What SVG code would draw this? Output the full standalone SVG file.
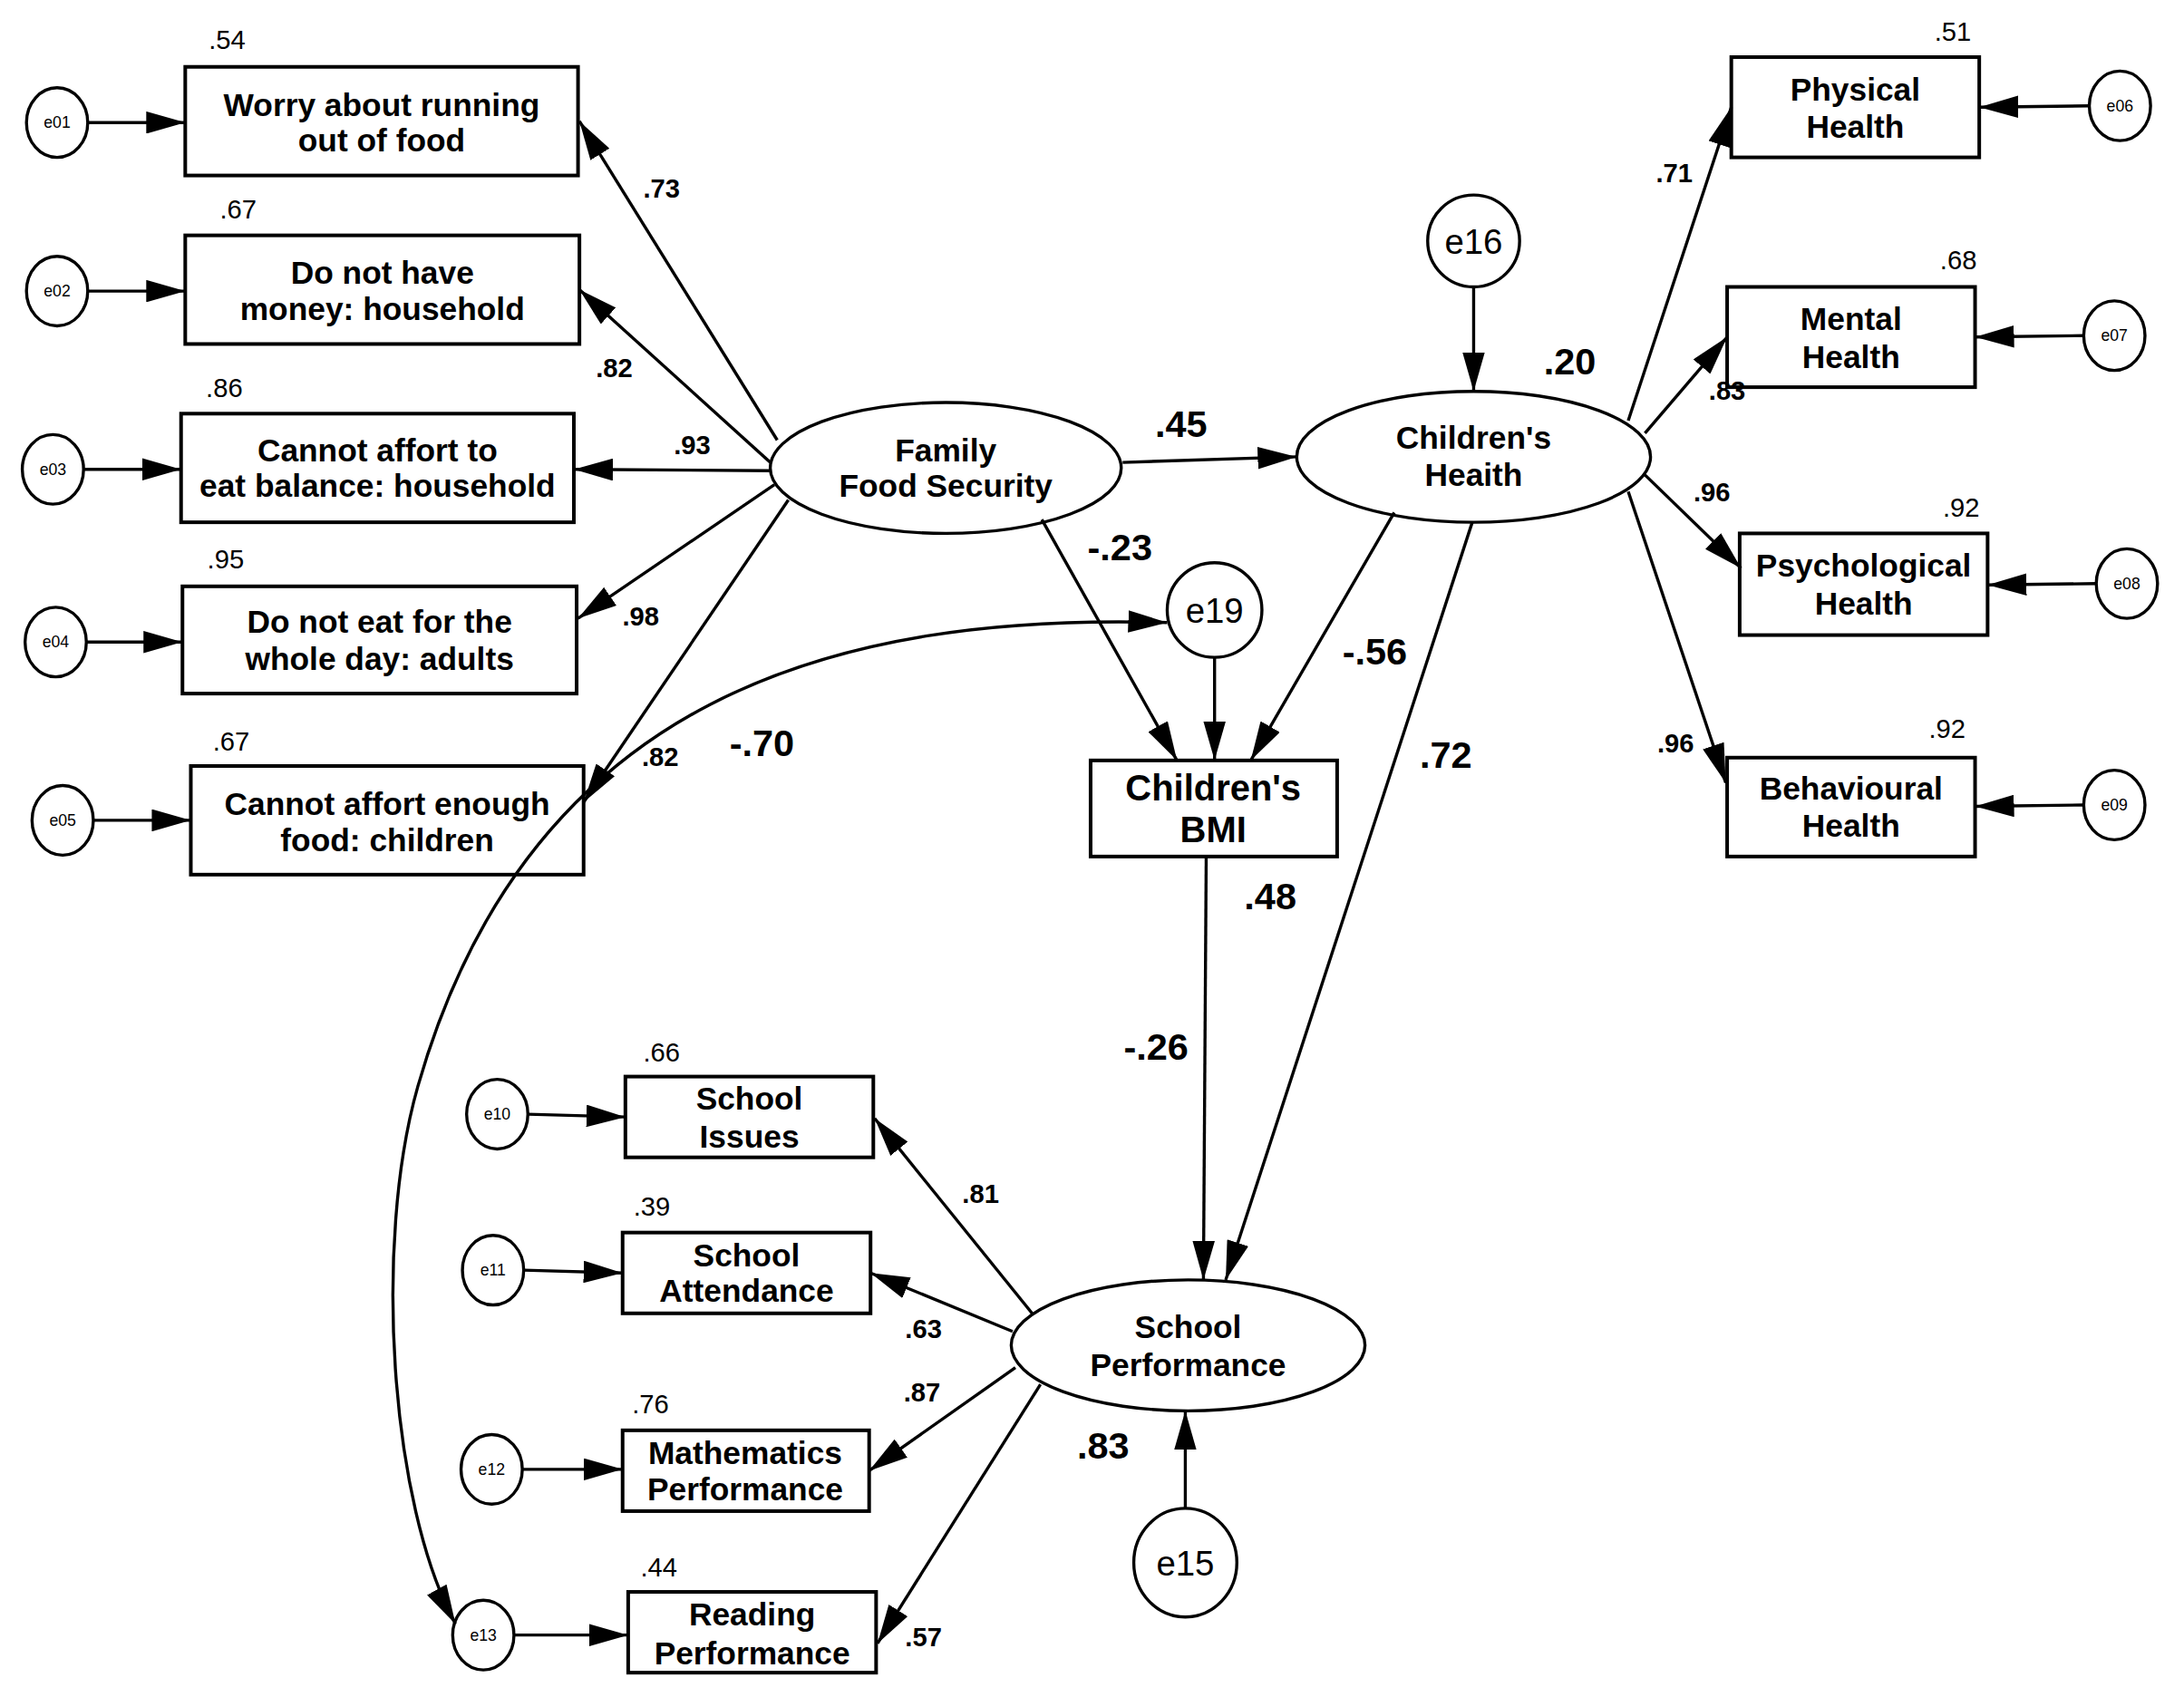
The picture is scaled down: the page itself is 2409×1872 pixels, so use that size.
<svg xmlns="http://www.w3.org/2000/svg" width="2409" height="1872" viewBox="0 0 2409 1872">
<style>
text{font-family:"Liberation Sans",Arial,sans-serif;fill:#000;text-anchor:middle}
.bx{fill:#fff;stroke:#000;stroke-width:2.6}
.el{fill:#fff;stroke:#000;stroke-width:2.2}
.ln{fill:none;stroke:#000;stroke-width:2.2;marker-end:url(#ah)}
.lbl{font-size:23px;font-weight:bold}
.bmi{font-size:26px;font-weight:bold}
.r2{font-size:19px}
.ld{font-size:19px;font-weight:bold}
.big{font-size:27px;font-weight:bold}
.es{font-size:11.5px}
.eb{font-size:25px}
</style>
<defs>
<marker id="ah" markerUnits="userSpaceOnUse" markerWidth="28" markerHeight="16" refX="28" refY="8" orient="auto-start-reverse" viewBox="0 0 28 16"><path d="M0,0 L28,8 L0,16 z" fill="#000"/></marker>
</defs>
<rect width="2409" height="1872" fill="#fff"/>
<g transform="scale(1.53635)">
<g id="e01"><ellipse class="el" cx="41" cy="88" rx="22" ry="25"/><text class="es" x="41" y="92">e01</text></g>
<g id="e02"><ellipse class="el" cx="41" cy="209" rx="22" ry="25"/><text class="es" x="41" y="213">e02</text></g>
<g id="e03"><ellipse class="el" cx="38" cy="337" rx="22" ry="25"/><text class="es" x="38" y="341">e03</text></g>
<g id="e04"><ellipse class="el" cx="40" cy="461" rx="22" ry="25"/><text class="es" x="40" y="465">e04</text></g>
<g id="e05"><ellipse class="el" cx="45" cy="589" rx="22" ry="25"/><text class="es" x="45" y="593">e05</text></g>
<g id="e06"><ellipse class="el" cx="1522" cy="76" rx="22" ry="25"/><text class="es" x="1522" y="80">e06</text></g>
<g id="e07"><ellipse class="el" cx="1518" cy="241" rx="22" ry="25"/><text class="es" x="1518" y="245">e07</text></g>
<g id="e08"><ellipse class="el" cx="1527" cy="419" rx="22" ry="25"/><text class="es" x="1527" y="423">e08</text></g>
<g id="e09"><ellipse class="el" cx="1518" cy="578" rx="22" ry="25"/><text class="es" x="1518" y="582">e09</text></g>
<g id="e10"><ellipse class="el" cx="357" cy="800" rx="22" ry="25"/><text class="es" x="357" y="804">e10</text></g>
<g id="e11"><ellipse class="el" cx="354" cy="912" rx="22" ry="25"/><text class="es" x="354" y="916">e11</text></g>
<g id="e12"><ellipse class="el" cx="353" cy="1055" rx="22" ry="25"/><text class="es" x="353" y="1059">e12</text></g>
<g id="e13"><ellipse class="el" cx="347" cy="1174" rx="22" ry="25"/><text class="es" x="347" y="1178">e13</text></g>
<g id="e16"><ellipse class="el" cx="1058" cy="173" rx="33" ry="33"/><text class="eb" x="1058" y="182">e16</text></g>
<g id="e19"><ellipse class="el" cx="872" cy="438" rx="34" ry="34"/><text class="eb" x="872" y="447">e19</text></g>
<g id="e15"><ellipse class="el" cx="851" cy="1122" rx="37" ry="39"/><text class="eb" x="851" y="1131">e15</text></g>
<g id="worry"><rect class="bx" x="133" y="48" width="282" height="78"/><text class="lbl" x="274" y="83">Worry about running</text><text class="lbl" x="274" y="109">out of food</text><text class="r2" x="163" y="35">.54</text></g>
<g id="money"><rect class="bx" x="133" y="169" width="283" height="78"/><text class="lbl" x="274.5" y="204">Do not have</text><text class="lbl" x="274.5" y="230">money: household</text><text class="r2" x="171" y="157">.67</text></g>
<g id="balance"><rect class="bx" x="130" y="297" width="282" height="78"/><text class="lbl" x="271" y="331">Cannot affort to</text><text class="lbl" x="271" y="357">eat balance: household</text><text class="r2" x="161" y="285">.86</text></g>
<g id="noeat"><rect class="bx" x="131" y="421" width="283" height="77"/><text class="lbl" x="272.5" y="454">Do not eat for the</text><text class="lbl" x="272.5" y="481">whole day: adults</text><text class="r2" x="162" y="408">.95</text></g>
<g id="enough"><rect class="bx" x="137" y="550" width="282" height="78"/><text class="lbl" x="278" y="585">Cannot affort enough</text><text class="lbl" x="278" y="611">food: children</text><text class="r2" x="166" y="539">.67</text></g>
<g id="ffs"><ellipse class="el" cx="679" cy="336" rx="126" ry="47"/><text class="lbl" x="679" y="331">Family</text><text class="lbl" x="679" y="357">Food Security</text></g>
<g id="ch"><ellipse class="el" cx="1058" cy="328" rx="127" ry="47"/><text class="lbl" x="1058" y="322">Children's</text><text class="lbl" x="1058" y="349">Heaith</text></g>
<g id="bmi"><rect class="bx" x="783" y="546" width="177" height="69"/><text class="bmi" x="871" y="575">Children's</text><text class="bmi" x="871" y="605">BMI</text></g>
<g id="sp"><ellipse class="el" cx="853" cy="966" rx="127" ry="47"/><text class="lbl" x="853" y="961">School</text><text class="lbl" x="853" y="988">Performance</text></g>
<g id="physical"><rect class="bx" x="1243" y="41" width="178" height="72"/><text class="lbl" x="1332" y="72">Physical</text><text class="lbl" x="1332" y="99">Health</text><text class="r2" x="1402" y="29">.51</text></g>
<g id="mental"><rect class="bx" x="1240" y="206" width="178" height="72"/><text class="lbl" x="1329" y="237">Mental</text><text class="lbl" x="1329" y="264">Health</text><text class="r2" x="1406" y="193">.68</text></g>
<g id="psych"><rect class="bx" x="1249" y="383" width="178" height="73"/><text class="lbl" x="1338" y="414">Psychological</text><text class="lbl" x="1338" y="441">Health</text><text class="r2" x="1408" y="371">.92</text></g>
<g id="behav"><rect class="bx" x="1240" y="544" width="178" height="71"/><text class="lbl" x="1329" y="574">Behavioural</text><text class="lbl" x="1329" y="601">Health</text><text class="r2" x="1398" y="530">.92</text></g>
<g id="issues"><rect class="bx" x="449" y="773" width="178" height="58"/><text class="lbl" x="538" y="797">School</text><text class="lbl" x="538" y="824">Issues</text><text class="r2" x="475" y="762">.66</text></g>
<g id="attend"><rect class="bx" x="447" y="885" width="178" height="58"/><text class="lbl" x="536" y="909">School</text><text class="lbl" x="536" y="935">Attendance</text><text class="r2" x="468" y="873">.39</text></g>
<g id="math"><rect class="bx" x="447" y="1027" width="177" height="58"/><text class="lbl" x="535" y="1051">Mathematics</text><text class="lbl" x="535" y="1077">Performance</text><text class="r2" x="467" y="1015">.76</text></g>
<g id="reading"><rect class="bx" x="451" y="1143" width="178" height="58"/><text class="lbl" x="540" y="1167">Reading</text><text class="lbl" x="540" y="1195">Performance</text><text class="r2" x="473" y="1132">.44</text></g>
<g id="connectors">
<line class="ln" x1="63" y1="88" x2="133" y2="88"/>
<line class="ln" x1="63" y1="209" x2="133" y2="209"/>
<line class="ln" x1="60" y1="337" x2="130" y2="337"/>
<line class="ln" x1="62" y1="461" x2="131" y2="461"/>
<line class="ln" x1="67" y1="589" x2="137" y2="589"/>
<line class="ln" x1="1500" y1="76" x2="1421" y2="77"/>
<line class="ln" x1="1496" y1="241" x2="1418" y2="242"/>
<line class="ln" x1="1505" y1="419" x2="1427" y2="420"/>
<line class="ln" x1="1496" y1="578" x2="1418" y2="579"/>
<line class="ln" x1="379" y1="800" x2="449" y2="802"/>
<line class="ln" x1="376" y1="912" x2="447" y2="914"/>
<line class="ln" x1="375" y1="1055" x2="447" y2="1055"/>
<line class="ln" x1="369" y1="1174" x2="451" y2="1174"/>
<line class="ln" x1="558" y1="316" x2="416" y2="87"/>
<line class="ln" x1="553" y1="332" x2="416" y2="208"/>
<line class="ln" x1="553" y1="338" x2="412" y2="337"/>
<line class="ln" x1="556" y1="348" x2="415" y2="444"/>
<line class="ln" x1="566" y1="359" x2="419" y2="576"/>
<line class="ln" x1="806" y1="332" x2="931" y2="328"/>
<line class="ln" x1="748" y1="373" x2="845" y2="546"/>
<line class="ln" x1="872" y1="472" x2="872" y2="546"/>
<line class="ln" x1="1001" y1="368" x2="898" y2="546"/>
<line class="ln" x1="1058" y1="206" x2="1058" y2="281"/>
<line class="ln" x1="1169" y1="302" x2="1243" y2="77"/>
<line class="ln" x1="1181" y1="311" x2="1240" y2="242"/>
<line class="ln" x1="1181" y1="341" x2="1250" y2="408"/>
<line class="ln" x1="1169" y1="353" x2="1239" y2="562"/>
<line class="ln" x1="1057" y1="375" x2="880" y2="919"/>
<line class="ln" x1="866" y1="615" x2="864" y2="919"/>
<line class="ln" x1="851" y1="1083" x2="851" y2="1013"/>
<line class="ln" x1="741" y1="943" x2="628" y2="803"/>
<line class="ln" x1="727" y1="956" x2="625" y2="914"/>
<line class="ln" x1="729" y1="982" x2="624" y2="1056"/>
<line class="ln" x1="747" y1="994" x2="630" y2="1180"/>
<path class="ln" style="marker-start:url(#ah)" d="M838,447 C600,440 380,500 300,780 C268,892 280,1080 327,1166"/>
</g>
<g id="labels">
<text class="ld" x="475" y="142">.73</text>
<text class="ld" x="441" y="271">.82</text>
<text class="ld" x="497" y="326">.93</text>
<text class="ld" x="460" y="449">.98</text>
<text class="ld" x="474" y="550">.82</text>
<text class="ld" x="1202" y="131">.71</text>
<text class="ld" x="1240" y="287">.83</text>
<text class="ld" x="1229" y="360">.96</text>
<text class="ld" x="1203" y="540">.96</text>
<text class="ld" x="704" y="864">.81</text>
<text class="ld" x="663" y="961">.63</text>
<text class="ld" x="662" y="1006">.87</text>
<text class="ld" x="663" y="1182">.57</text>
<text class="big" x="848" y="314">.45</text>
<text class="big" x="804" y="402">-.23</text>
<text class="big" x="1127" y="269">.20</text>
<text class="big" x="987" y="477">-.56</text>
<text class="big" x="1038" y="551">.72</text>
<text class="big" x="547" y="543">-.70</text>
<text class="big" x="912" y="653">.48</text>
<text class="big" x="830" y="761">-.26</text>
<text class="big" x="792" y="1047">.83</text>
</g>
</g>
</svg>
